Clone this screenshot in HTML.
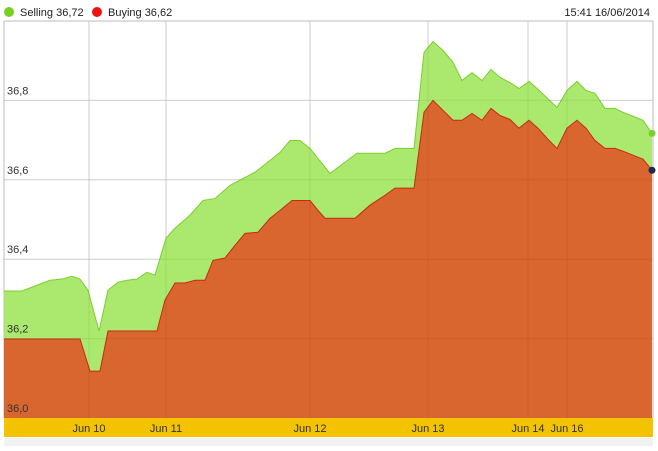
<!DOCTYPE html>
<html><head><meta charset="utf-8"><style>
body{margin:0;width:658px;height:446px;background:#fff;overflow:hidden;font-family:"Liberation Sans",sans-serif}
</style></head><body>
<svg id="c" width="658" height="446" xmlns="http://www.w3.org/2000/svg"></svg>
<script>
const sellT=[0,18,46,58,68,76,84,95,104,114,123,133,143,151,154,162,171,186,199,211,226,241,251,266,276,286,296,306,326,353,381,391,410,420,429,439,449,458,468,478,487,496,506,515,525,534,553,563,573,582,591,601,611,619,639,648];
const sellV=[36.32,36.32,36.347,36.35,36.357,36.35,36.322,36.219,36.322,36.342,36.347,36.35,36.367,36.36,36.385,36.453,36.478,36.511,36.548,36.553,36.586,36.606,36.619,36.649,36.669,36.699,36.699,36.679,36.616,36.667,36.667,36.679,36.679,36.921,36.948,36.926,36.896,36.85,36.87,36.85,36.878,36.858,36.845,36.83,36.848,36.828,36.782,36.825,36.848,36.825,36.818,36.78,36.78,36.77,36.75,36.717];
const buyT=[0,76,86,96,104,153,161,171,181,191,201,209,221,231,241,254,266,276,288,306,314,321,351,366,381,391,410,420,429,439,449,458,468,478,487,496,506,515,525,534,544,553,563,573,582,591,601,611,619,639,648];
const buyV=[36.199,36.199,36.118,36.118,36.219,36.219,36.297,36.34,36.34,36.347,36.347,36.397,36.403,36.435,36.465,36.468,36.503,36.523,36.548,36.548,36.523,36.503,36.503,36.536,36.561,36.579,36.579,36.77,36.8,36.775,36.75,36.75,36.767,36.75,36.78,36.762,36.752,36.73,36.75,36.73,36.702,36.679,36.73,36.75,36.73,36.699,36.679,36.679,36.672,36.652,36.624];
const xTickT=[85,162,306,424,524,563];
const xTickLabels=["Jun 10","Jun 11","Jun 12","Jun 13","Jun 14","Jun 16"];
const yTicks=[36.0,36.2,36.4,36.6,36.8];
const yTickLabels=["36,0","36,2","36,4","36,6","36,8"];

const svg=document.getElementById('c');const NS='http://www.w3.org/2000/svg';
const L=4,R=653,T=21,B=418;
const x=t=>L+t/649*(R-L);
const y=v=>B-(v-36)/1.0*(B-T);
function mk(tag,a,p){const e=document.createElementNS(NS,tag);for(const k in a)e.setAttribute(k,a[k]);(p||svg).appendChild(e);return e;}

const grid=mk('g',{});


mk('line',{x1:L,x2:R,y1:T,y2:T,stroke:'#bbb'},grid);
yTicks.forEach(v=>{if(v>36)mk('line',{x1:L,x2:R,y1:y(v),y2:y(v),stroke:'#d8d8d8'},grid);});
xTickT.forEach(t=>mk('line',{x1:x(t),x2:x(t),y1:T,y2:B,stroke:'#d8d8d8'},grid));
mk('line',{x1:L,x2:L,y1:T,y2:B,stroke:'#bbb'},grid);
mk('line',{x1:R,x2:R,y1:T,y2:B,stroke:'#bbb'},grid);

function area(ts,vs,fill,line,name){
 let d='M'+x(ts[0])+','+B;ts.forEach((t,i)=>d+=' L'+x(t)+','+y(vs[i]));d+=' L'+x(ts[ts.length-1])+','+B+' Z';
 const a=mk('path',{d:d,fill:fill,'fill-opacity':0.92});
 
 
 let l='';ts.forEach((t,i)=>l+=(i?' L':'M')+x(t)+','+y(vs[i]));
 const p=mk('path',{d:l,fill:'none',stroke:line,'stroke-width':1});
 
 
}
area(sellT,sellV,'#a3e662','#7ccf2a','selling');
area(buyT,buyV,'#dc5a28','#c82a10','buying');
yTicks.forEach(v=>{if(v>36)mk('line',{x1:L,x2:R,y1:y(v),y2:y(v),stroke:'#000','stroke-opacity':0.05});});
xTickT.forEach(t=>mk('line',{x1:x(t),x2:x(t),y1:T,y2:B,stroke:'#000','stroke-opacity':0.05}));
const e1=mk('circle',{cx:x(sellT[sellT.length-1]),cy:y(sellV[sellV.length-1]),r:3.5,fill:'#7ccf2a'});


const e2=mk('circle',{cx:x(buyT[buyT.length-1]),cy:y(buyV[buyV.length-1]),r:3.5,fill:'#1a2a50'});



yTicks.forEach((v,i)=>{const t=mk('text',{x:7,y:y(v)-6,'font-size':11,fill:'#333'});t.textContent=yTickLabels[i];
 
 });

const band=mk('rect',{x:L,y:B,width:R-L,height:19,fill:'#f3c200'});


mk('rect',{x:L,y:438,width:R-L,height:8,fill:'#f2f2f2'});
xTickT.forEach((t,i)=>{const e=mk('text',{x:x(t),y:432,'font-size':11,fill:'#333','text-anchor':'middle'});e.textContent=xTickLabels[i];
 
 });

const lg=mk('g',{});


mk('circle',{cx:9,cy:12,r:5,fill:'#77d11e'},lg);
let t1=mk('text',{x:20,y:16,'font-size':11,fill:'#222'},lg);t1.textContent='Selling 36,72';


mk('circle',{cx:97,cy:12,r:5,fill:'#ee1111'},lg);
let t2=mk('text',{x:108,y:16,'font-size':11,fill:'#222'},lg);t2.textContent='Buying 36,62';


let ts=mk('text',{x:650,y:16,'font-size':11,fill:'#222','text-anchor':'end'});ts.textContent='15:41 16/06/2014';


</script>
</body></html>
